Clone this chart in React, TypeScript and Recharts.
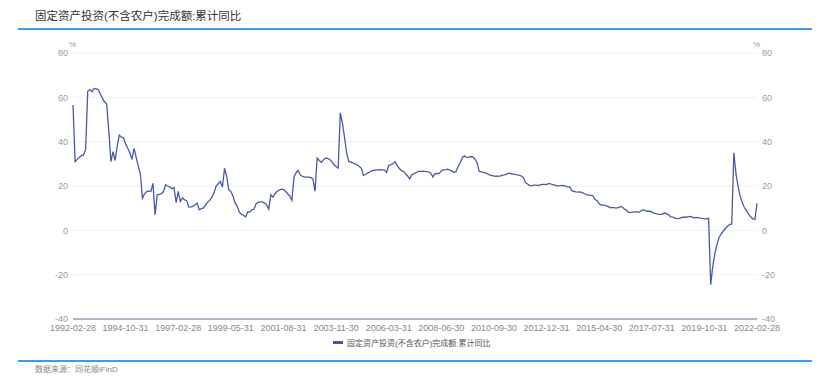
import React from 'react';
import { LineChart, Line, XAxis, YAxis, CartesianGrid } from 'recharts';

// x tick labels, one every 25 points
const tickLabels = [
  '1992-02-28', '1994-10-31', '1997-02-28', '1999-05-31', '2001-08-31',
  '2003-11-30', '2006-03-31', '2008-06-30', '2010-09-30', '2012-12-31',
  '2015-04-30', '2017-07-31', '2019-10-31', '2022-02-28'
];

const yTicks = [-40, -20, 0, 20, 40, 60, 80];

// 累计同比 (%), 1992-02 .. 2022-02 (no January values)
const values = [
  // 1992 - 1994
  56.5, 31, 32, 33, 33.7, 34, 36.5, 62.7, 63.5, 62.5, 64, 63.8, 63.5, 61.5,
  59.5, 58, 57, 45, 31, 35.5, 31.5, 38, 43, 42, 41.8, 39, 37, 35,
  // 1995
  32, 37, 33, 29, 25.5, 14.5, 16.5, 17.5, 17.8, 17.5, 21.2,
  // 1996
  7, 16, 16.2, 16.5, 17.5, 20.6, 20, 19.6, 18.8, 19.2, 12.5,
  // 1997
  17.6, 13, 14.6, 13.8, 13.4, 10.5, 10.6, 10.8, 11.5, 12.3, 9.3,
  // 1998
  9.8, 10.1, 11.5, 12.8, 13.5, 15, 17, 20, 21, 22, 19.5,
  // 1999
  28, 24.5, 18.3, 17.6, 15.5, 12.5, 10.8, 8.3, 7.2, 6.8, 6.0,
  // 2000
  8.3, 8.2, 9.3, 9.5, 12, 12.6, 12.8, 12.8, 12.3, 11.5, 9.6,
  // 2001
  16.1, 15, 16.5, 17.6, 18.2, 18.6, 18.4, 17.6, 16.5, 15.5, 13.5,
  // 2002
  24, 26, 27, 25, 24.3, 24.1, 24, 24, 23.8, 23.2, 17.6,
  // 2003
  32.6, 31.5, 30.7, 31.8, 32.6, 32.5, 31.9, 31, 29.6, 28.8, 28.1,
  // 2004
  53, 48.4, 42, 35, 31.1, 30.8, 30.4, 30, 29.6, 28.8, 28.1,
  // 2005
  24.7, 25.3, 25.8, 26.3, 26.8, 27.1, 27.2, 27.3, 27.4, 27.3, 27.2,
  // 2006
  26.1, 29.3, 29.5, 30, 31, 29.2, 28, 27, 26.6, 25.5, 24.5,
  // 2007
  23.2, 25.1, 25.5, 26, 26.6, 26.6, 26.7, 26.6, 26.5, 26.4, 25.8,
  // 2008
  24.1, 25.6, 25.7, 25.6, 26.8, 27.3, 27.4, 27.6, 27.2, 26.8, 26.1,
  // 2009
  26.5, 28.8, 30.5, 32.9, 33.6, 32.9, 33, 33.3, 33.1, 32.1, 30.5,
  // 2010
  26.6, 26.4, 26.1, 25.9, 25.5, 24.9, 24.8, 24.5, 24.4, 24.5, 24.5,
  // 2011
  24.9, 25, 25.4, 25.8, 25.6, 25.4, 25.2, 25, 24.9, 24.5, 23.8,
  // 2012
  21.5, 20.9, 20.2, 20.1, 20.4, 20.4, 20.2, 20.5, 20.7, 20.7, 20.6,
  // 2013
  21.2, 20.9, 20.6, 20.4, 20.1, 20.1, 20.3, 20.2, 19.9, 19.6, 19.6,
  // 2014
  17.9, 17.6, 17.3, 17.2, 17.3, 17.0, 16.5, 16.1, 15.9, 15.8, 15.7,
  // 2015
  13.9, 13.5, 12.0, 11.4, 11.4, 11.2, 10.9, 10.3, 10.2, 10.2, 10.0,
  // 2016
  10.2, 10.7, 10.5, 9.6, 9.0, 8.1, 8.1, 8.2, 8.3, 8.3, 8.1,
  // 2017
  8.9, 9.2, 8.9, 8.6, 8.6, 8.3, 7.8, 7.5, 7.3, 7.2, 7.2,
  // 2018
  7.9, 7.5, 7.0, 6.1, 6.0, 5.5, 5.3, 5.4, 5.7, 5.9, 5.9,
  // 2019
  6.1, 6.3, 6.1, 5.6, 5.8, 5.7, 5.5, 5.4, 5.2, 5.2, 5.4,
  // 2020
  -24.5, -16.1, -10.3, -6.3, -3.1, -1.6, -0.3, 0.8, 1.8, 2.6, 2.9,
  // 2021
  35, 25.6, 19.9, 15.4, 12.6, 10.3, 8.9, 7.3, 6.1, 5.2, 4.9,
  // 2022
  12.2
];

const seriesName = '固定资产投资(不含农户)完成额:累计同比';

const data = values.map((v, i) => ({ i, v }));
const xTicks = tickLabels.map((_, k) => k * 25);

const font = '"Liberation Sans", Arial, "Noto Sans CJK SC", sans-serif';

const App: React.FC = () => {
  return (
    <div style={{ position: 'absolute', left: 0, top: 0, width: 830, height: 380, background: '#fff', fontFamily: font }}>
      <div style={{ position: 'absolute', left: 35, top: 7, fontSize: 11.5, color: '#333', whiteSpace: 'nowrap' }}>
        {seriesName}
      </div>
      <div style={{ position: 'absolute', left: 18, top: 28, width: 794, height: 1.5, background: '#3d9cf0' }} />

      <div style={{ position: 'absolute', left: 69, top: 40, fontSize: 8, color: '#999' }}>%</div>
      <div style={{ position: 'absolute', left: 753, top: 40, fontSize: 8, color: '#999' }}>%</div>

      <LineChart width={830} height={380} data={data} margin={{ top: 53, right: 13, bottom: 41, left: 13 }}>
        <CartesianGrid vertical={false} yAxisId="left" stroke="#eef0f4" strokeWidth={1} />
        <XAxis
          type="number"
          dataKey="i"
          domain={[0, values.length - 1]}
          ticks={xTicks}
          interval={0}
          tickFormatter={(x: number) => tickLabels[Math.round(x / 25)]}
          tick={{ fontSize: 9, fill: '#888' }}
          tickLine={false}
          tickSize={2}
          tickMargin={4}
          height={20}
          axisLine={{ stroke: '#b3b5c9', strokeWidth: 2 }}
        />
        <YAxis
          yAxisId="left"
          orientation="left"
          domain={[-40, 80]}
          ticks={yTicks}
          width={60}
          axisLine={false}
          tickLine={false}
          tickSize={0}
          tickMargin={5}
          tick={{ fontSize: 9, fill: '#999' }}
        />
        <YAxis
          yAxisId="right"
          orientation="right"
          domain={[-40, 80]}
          ticks={yTicks}
          width={60}
          axisLine={false}
          tickLine={false}
          tickSize={0}
          tickMargin={5}
          tick={{ fontSize: 9, fill: '#999' }}
        />
        <Line
          yAxisId="right"
          type="linear"
          dataKey="v"
          stroke="none"
          legendType="none"
          dot={false}
          activeDot={false}
          isAnimationActive={false}
        />
        <Line
          yAxisId="left"
          type="linear"
          dataKey="v"
          name={seriesName}
          stroke="#4a59a7"
          strokeWidth={1.3}
          dot={false}
          isAnimationActive={false}
        />
      </LineChart>

      <div style={{ position: 'absolute', left: 333, top: 337, display: 'flex', alignItems: 'center', whiteSpace: 'nowrap' }}>
        <span style={{ display: 'inline-block', width: 10, height: 3, background: '#4a59a7', marginRight: 4 }} />
        <span style={{ fontSize: 8, color: '#555' }}>{seriesName}</span>
      </div>

      <div style={{ position: 'absolute', left: 18, top: 360, width: 794, height: 1.5, background: '#3d9cf0' }} />
      <div style={{ position: 'absolute', left: 35, top: 363, fontSize: 8, color: '#888', whiteSpace: 'nowrap' }}>
        数据来源：同花顺iFinD
      </div>
    </div>
  );
};

export default App;
